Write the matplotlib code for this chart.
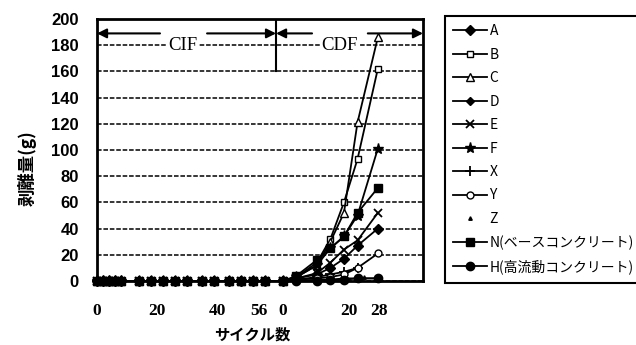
import numpy as np
import matplotlib.pyplot as plt

plt.rcParams['font.family'] = ['Noto Sans CJK JP', 'DejaVu Sans']

# CIF phase (cycles) -- no scaling measured, every series sits on zero
cif_cycles = [0, 2, 4, 6, 8, 14, 18, 22, 26, 30, 35, 39, 44, 48, 52, 56]
cif_loss = [0, 0, 0, 0, 0, 0, 0, 0, 0, 0, 0, 0, 0, 0, 0, 0]

# CDF phase (cycles) and scaling per series (g)
cdf_cycles = [0, 4, 10, 14, 18, 22, 28]
loss_A = [0, 2, 5, 10, 17, 27, 40]
loss_B = [0, 3, 14, 32, 60, 93, 162]
loss_C = [0, 3, 12, 30, 52, 121, 186]
loss_D = [0, 0, 1, 1, 2, 2, 2]
loss_E = [0, 2, 6, 14, 24, 31, 52]
loss_F = [0, 3, 12, 25, 34, 50, 101]
loss_X = [0, 1, 3, 5, 7, 10, np.nan]
loss_Y = [0, 1, 2, 3, 5, 10, 21]
loss_N = [0, 4, 16, 25, 34, 52, 71]
loss_H = [0, 0, 0, 1, 1, 2, 2]

# Z only has scattered points
z_cif_cycles = [2, 4, 6, 8]
z_cif_loss = [3, 3, 3, 3]
z_cdf_cycles = [24]
z_cdf_loss = [3]

names = ['A', 'B', 'C', 'D', 'E', 'F', 'X', 'Y', 'Z',
         'N(ベースコンクリート)', 'H(高流動コンクリート)']

x_ticks_cif = ['0', '20', '40', '56']
x_ticks_cdf = ['0', '20', '28']


def cif_pos(c):
    return np.asarray(c, float)


def cdf_pos(c):
    return 62 + 1.13 * np.asarray(c, float)


fig = plt.figure(figsize=(6.36, 3.45), dpi=100)
ax = fig.add_axes([97 / 636, 1 - 281 / 345, 326 / 636, 262 / 345])

styles = {
    'A': dict(marker='D', ms=5.5, mfc='black'),
    'B': dict(marker='s', ms=5, mfc='white'),
    'C': dict(marker='^', ms=5.5, mfc='white'),
    'D': dict(marker='D', ms=4.5, mfc='black'),
    'E': dict(marker='x', ms=6, mew=1.3),
    'F': dict(marker='*', ms=8, mfc='black'),
    'X': dict(marker='+', ms=7, mew=1.3),
    'Y': dict(marker='o', ms=5, mfc='white'),
    'N': dict(marker='s', ms=6, mfc='black'),
    'H': dict(marker='o', ms=6, mfc='black'),
}
series = [('A', loss_A), ('B', loss_B), ('C', loss_C), ('D', loss_D),
          ('E', loss_E), ('F', loss_F), ('X', loss_X), ('Y', loss_Y),
          ('Z', None), ('N', loss_N), ('H', loss_H)]

handles = []
for key, vals in series:
    if vals is None:
        xs = np.concatenate([cif_pos(z_cif_cycles), cdf_pos(z_cdf_cycles)])
        ys = list(z_cif_loss) + list(z_cdf_loss)
        h, = ax.plot(xs, ys, ls='none', marker='^', ms=2.5, color='black',
                     clip_on=False, zorder=4)
    else:
        xs = np.concatenate([cif_pos(cif_cycles), cdf_pos(cdf_cycles)])
        ys = list(cif_loss) + list(vals)
        h, = ax.plot(xs, ys, color='black', lw=1.3, mec='black',
                     clip_on=False, zorder=4, **styles[key])
    handles.append(h)

ax.set_xlim(0, 108.7)
ax.set_ylim(0, 200)
ax.set_yticks(np.arange(0, 201, 20))
ax.set_xticks([0, 20, 40, 54, 62, 84, 94])
ax.set_xticklabels(x_ticks_cif + x_ticks_cdf, family='Liberation Serif',
                   fontweight='bold', fontsize=12.5)
for t in ax.get_yticklabels():
    t.set_family('Liberation Sans')
    t.set_fontweight('bold')
    t.set_fontsize(12)
ax.tick_params(axis='x', length=0, pad=16)
ax.tick_params(axis='y', length=0, pad=13)
ax.yaxis.grid(True, color='black', lw=1.1, ls=(0, (3, 1.2)))
ax.set_axisbelow(True)
for s in ax.spines.values():
    s.set_linewidth(2)

# CIF / CDF phase markers
ax.plot([59.7, 59.7], [160, 200], color='black', lw=1.5)
arrow = dict(arrowstyle='-|>', color='black', lw=1.5, mutation_scale=14,
             shrinkA=0, shrinkB=0)
ax.annotate('', xy=(0, 189), xytext=(21, 189), arrowprops=arrow)
ax.annotate('', xy=(59.7, 189), xytext=(36.7, 189), arrowprops=arrow)
ax.annotate('', xy=(59.7, 189), xytext=(71.7, 189), arrowprops=arrow)
ax.annotate('', xy=(108.7, 189), xytext=(90.3, 189), arrowprops=arrow,
            annotation_clip=False)
ax.text(28.7, 180, 'CIF', family='Liberation Serif', fontsize=13.5,
        ha='center', va='center',
        bbox=dict(fc='white', ec='none', pad=1))
ax.text(80.7, 180, 'CDF', family='Liberation Serif', fontsize=13.5,
        ha='center', va='center',
        bbox=dict(fc='white', ec='none', pad=1))

fig.text(27 / 636, 1 - 168 / 345, '剥離量(g)', rotation=90, ha='center',
         va='center', fontsize=12.5, fontweight='bold')
fig.text(252 / 636, 1 - 335 / 345, 'サイクル数', ha='center', va='center',
         fontsize=11, fontweight='bold')

leg = fig.legend(handles, names, loc='upper left',
                 bbox_to_anchor=(445 / 636, 1 - 16 / 345), borderaxespad=0,
                 fancybox=False, edgecolor='black', fontsize=10,
                 labelspacing=0.68, handlelength=2.4, handletextpad=0.2,
                 borderpad=0.6)
leg.get_frame().set_linewidth(1.5)
leg.get_frame().set_alpha(1)

fig.savefig('out.png', dpi=100)
